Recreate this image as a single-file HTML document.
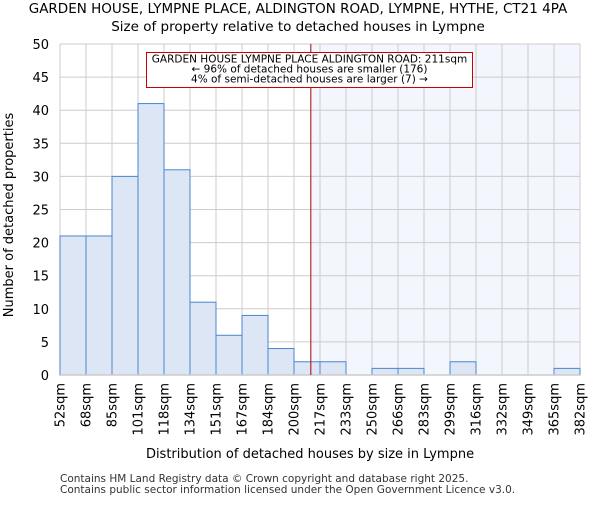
<!DOCTYPE html>
<html><head><meta charset="utf-8"><style>
body{margin:0;background:#fff;font-family:"Liberation Sans","DejaVu Sans",sans-serif}
</style></head><body>
<svg width="600" height="500" xmlns="http://www.w3.org/2000/svg" id="chart" font-family="DejaVu Sans, Liberation Sans, sans-serif">
<text x="298" y="13" text-anchor="middle" font-size="13.5">GARDEN HOUSE, LYMPNE PLACE, ALDINGTON ROAD, LYMPNE, HYTHE, CT21 4PA</text>
<text x="298" y="31" text-anchor="middle" font-size="13.5">Size of property relative to detached houses in Lympne</text>
<g id="plot"></g>
<text x="310" y="458" text-anchor="middle" font-size="13">Distribution of detached houses by size in Lympne</text>
<text transform="translate(13,215) rotate(-90)" text-anchor="middle" font-size="13">Number of detached properties</text>
<text x="60" y="482" font-size="10.5" fill="#333">Contains HM Land Registry data © Crown copyright and database right 2025.</text>
<text x="60" y="493" font-size="10.5" fill="#333">Contains public sector information licensed under the Open Government Licence v3.0.</text>
</svg>
<script>
const binLabels=["52sqm","68sqm","85sqm","101sqm","118sqm","134sqm","151sqm","167sqm","184sqm","200sqm","217sqm","233sqm","250sqm","266sqm","283sqm","299sqm","316sqm","332sqm","349sqm","365sqm","382sqm"];
const counts=[21,21,30,41,31,11,6,9,4,2,2,0,1,1,0,2,0,0,0,1];
const yTicks=[0,5,10,15,20,25,30,35,40,45,50];
const markerBinPos=[9.647];
const NS="http://www.w3.org/2000/svg";
const L=60,R=580,T=44,B=375,yMax=50;
const bw=(R-L)/counts.length;
const xs=i=>L+i*bw;
const ys=v=>B-(v/yMax)*(B-T);
const g=document.getElementById('plot');
function mk(t,a){const e=document.createElementNS(NS,t);for(const k in a)e.setAttribute(k,a[k]);g.appendChild(e);return e;}
const mx=xs(markerBinPos[0]);
let e=mk('rect',{x:mx,y:T,width:R-mx,height:B-T,fill:'#f4f6fd'});


yTicks.forEach(v=>{
 let l=mk('line',{x1:L,x2:R,y1:ys(v),y2:ys(v),stroke:'#cccccc','stroke-width':1});
 
 
 let t=mk('text',{x:L-11,y:ys(v)+5,'text-anchor':'end','font-size':'13'});
 t.textContent=v;
 
 
});
binLabels.forEach((s,i)=>{
 let l=mk('line',{x1:xs(i),x2:xs(i),y1:T,y2:B,stroke:'#cccccc','stroke-width':1});
 
 
 let t=mk('text',{transform:`translate(${xs(i)+4.5},${B+8}) rotate(-90)`,'text-anchor':'end','font-size':'13'});
 t.textContent=s;
 
 
});
counts.forEach((c,i)=>{
 if(c<=0)return;
 let r=mk('rect',{x:xs(i),y:ys(c),width:bw,height:B-ys(c),fill:'#dce6f4',stroke:'#4a86d0','stroke-width':1});
 
 
});
let ax=mk('line',{x1:L,x2:R,y1:B,y2:B,stroke:'#ccc','stroke-width':1.5});


let ml=mk('line',{x1:mx,x2:mx,y1:T,y2:B,stroke:'#aa0000','stroke-width':1});


let box=mk('rect',{x:146.5,y:52.5,width:326,height:35,fill:'#fff',stroke:'#c00','stroke-width':1});


["GARDEN HOUSE LYMPNE PLACE ALDINGTON ROAD: 211sqm","← 96% of detached houses are smaller (176)","4% of semi-detached houses are larger (7) →"].forEach((s,i)=>{
 let t=mk('text',{x:309.5,y:62.5+i*10,'text-anchor':'middle','font-size':'10.5'});
 t.textContent=s;
 
 
});
</script>
</body></html>
